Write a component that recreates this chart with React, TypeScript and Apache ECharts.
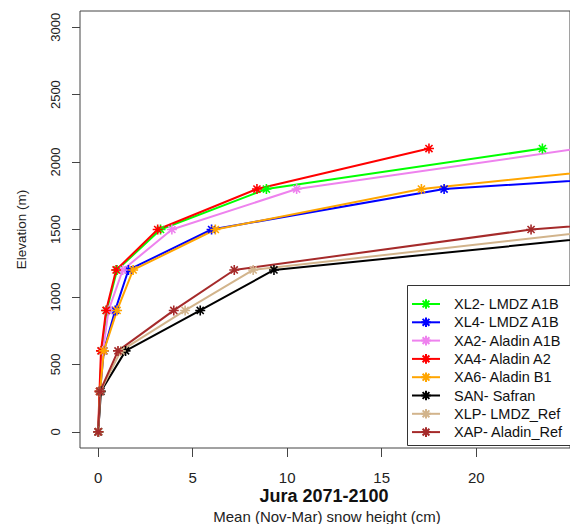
import React, { useEffect, useRef } from "react";
import * as echarts from "echarts";

// Elevation levels (m)
const elevations = [0, 300, 600, 900, 1200, 1500, 1800, 2100];

// Mean (Nov-Mar) snow height (cm) per elevation level
const xl2 = [0.02, 0.08, 0.2, 0.45, 1.0, 3.3, 8.9, 23.5];
const xl4 = [0.02, 0.1, 0.3, 0.9, 1.6, 6.0, 18.3, 52];
const xa2 = [0.02, 0.08, 0.25, 0.55, 1.3, 3.9, 10.5, 25.4];
const xa4 = [0.0, 0.07, 0.15, 0.42, 0.95, 3.15, 8.4, 17.5];
const xa6 = [0.02, 0.1, 0.3, 1.0, 1.85, 6.2, 17.1, 37.7];
const san = [0.0, 0.15, 1.45, 5.4, 9.3, 30.5];
const xlp = [0.0, 0.12, 1.2, 4.6, 8.2, 27];
const xap = [0.0, 0.1, 1.05, 4.0, 7.2, 22.9, 50];

const seriesNames = [
  "XL2- LMDZ A1B",
  "XL4- LMDZ A1B",
  "XA2- Aladin A1B",
  "XA4- Aladin A2",
  "XA6- Aladin B1",
  "SAN- Safran",
  "XLP- LMDZ_Ref",
  "XAP- Aladin_Ref",
];
const seriesValues = [xl2, xl4, xa2, xa4, xa6, san, xlp, xap];
const seriesColors = [
  "#00FF00",
  "#0000FF",
  "#EE82EE",
  "#FF0000",
  "#FFA500",
  "#000000",
  "#D2B48C",
  "#A52A2A",
];

const yTicks = [0, 500, 1000, 1500, 2000, 2500, 3000];
const xTicks = [0, 5, 10, 15, 20, 25];

const ASTERISK =
  "path://M5,0L5,10M0,5L10,5M1.46,1.46L8.54,8.54M8.54,1.46L1.46,8.54";

export default function App() {
  const ref = useRef<HTMLDivElement>(null);
  useEffect(() => {
    if (!ref.current) return;
    const chart = echarts.init(ref.current, undefined, { renderer: "svg" });
    const font = "Liberation Sans, Arial, sans-serif";
    const series = seriesNames.map((name, k) => ({
      name,
      type: "line",
      data: seriesValues[k].map((v, i) => [v, elevations[i]]),
      symbol: ASTERISK,
      symbolSize: 10,
      color: seriesColors[k],
      lineStyle: { color: seriesColors[k], width: 2 },
      itemStyle: {
        color: seriesColors[k],
        borderColor: seriesColors[k],
        borderWidth: 1.6,
      },
      clip: true,
      z: 2,
    }));
    chart.setOption({
      animation: false,
      backgroundColor: "#ffffff",
      textStyle: { fontFamily: font },
      grid: {
        left: 80,
        top: 11,
        right: -13,
        bottom: 76,
        show: true,
        borderColor: "#444",
        borderWidth: 1,
        backgroundColor: "transparent",
      },
      xAxis: {
        type: "value",
        min: -0.96,
        max: 24.96,
        axisLine: { show: false, onZero: false },
        splitLine: { show: false },
        axisTick: {
          show: true,
          inside: false,
          length: 9,
          customValues: xTicks,
          lineStyle: { color: "#444", width: 1 },
        },
        axisLabel: {
          customValues: xTicks,
          margin: 22,
          fontSize: 15,
          color: "#222",
          fontFamily: font,
          formatter: (v: number) => String(v),
        },
      },
      yAxis: {
        type: "value",
        min: -120,
        max: 3120,
        name: "Elevation (m)",
        nameLocation: "middle",
        nameGap: 52,
        nameTextStyle: { fontSize: 13.5, color: "#222", fontFamily: font },
        axisLine: { show: false, onZero: false },
        splitLine: { show: false },
        axisTick: {
          show: true,
          inside: false,
          length: 8,
          customValues: yTicks,
          lineStyle: { color: "#444", width: 1 },
        },
        axisLabel: {
          customValues: yTicks,
          rotate: 90,
          margin: 18,
          fontSize: 13,
          color: "#222",
          fontFamily: font,
          formatter: (v: number) => String(v),
        },
      },
      legend: {
        orient: "vertical",
        left: 411,
        top: 295,
        itemWidth: 28,
        itemHeight: 12,
        itemGap: 0.3,
        padding: 0,
        z: 5,
        textStyle: {
          fontSize: 14.5,
          color: "#111",
          lineHeight: 18,
          fontFamily: font,
          padding: [0, 0, 0, 9],
        },
        data: seriesNames,
      },
      graphic: [
        {
          type: "rect",
          z: 4,
          shape: { x: 407.5, y: 285.5, width: 200, height: 160 },
          style: { fill: "#fff", stroke: "#333", lineWidth: 1 },
        },
        {
          type: "text",
          z: 4,
          x: 324,
          y: 495.5,
          style: {
            text: "Jura 2071-2100",
            fontSize: 18,
            fontWeight: "bold",
            fontFamily: font,
            fill: "#111",
            align: "center",
            verticalAlign: "middle",
          },
        },
        {
          type: "text",
          z: 4,
          x: 327,
          y: 516,
          style: {
            text: "Mean (Nov-Mar) snow height (cm)",
            fontSize: 15,
            fontFamily: font,
            fill: "#222",
            align: "center",
            verticalAlign: "middle",
          },
        },
      ],
      series,
    });
    return () => chart.dispose();
  }, []);
  return (
    <div
      ref={ref}
      style={{ position: "absolute", left: 0, top: 0, width: 570, height: 524 }}
    />
  );
}
